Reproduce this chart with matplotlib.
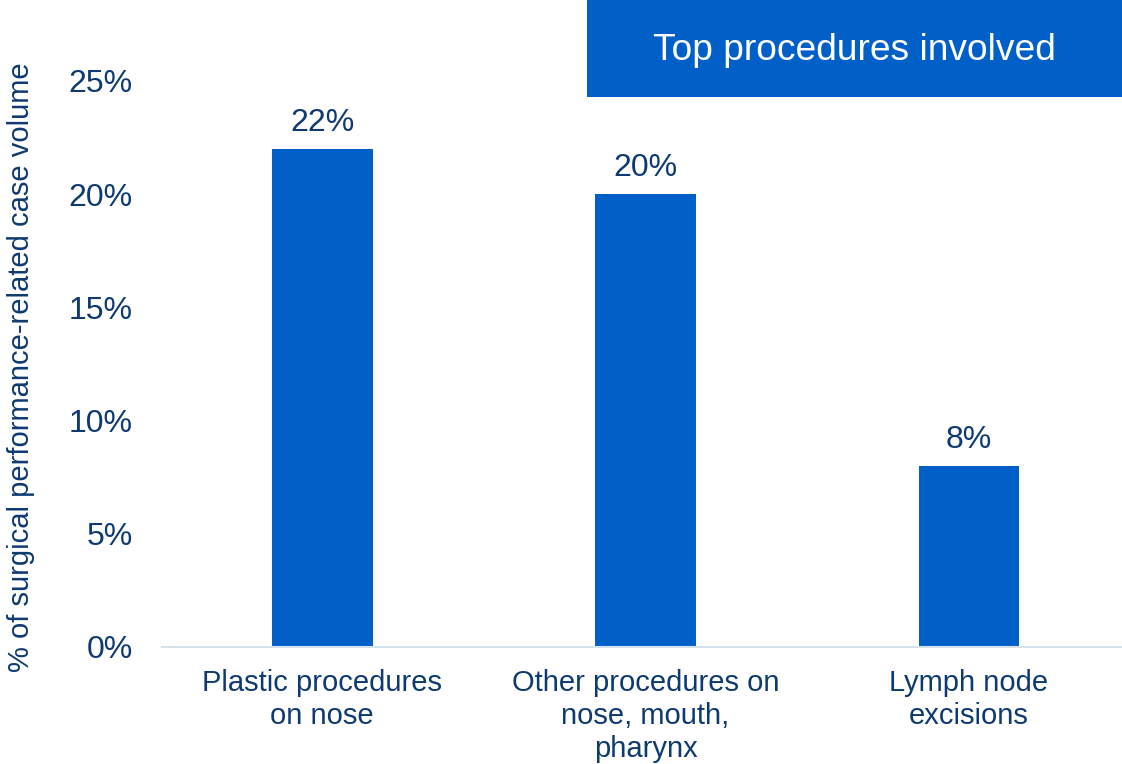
import matplotlib
matplotlib.use("Agg")
import matplotlib.pyplot as plt
from matplotlib.patches import Rectangle

plt.rcParams["font.family"] = ["Liberation Sans", "DejaVu Sans"]

# Share of surgical performance-related case volume by procedure
categories = ["Plastic procedures\non nose",
              "Other procedures on\nnose, mouth,\npharynx",
              "Lymph node\nexcisions"]
shares = [22, 20, 8]
yticks = [0, 5, 10, 15, 20, 25]

BAR_BLUE = "#0060C8"
NAVY = "#0E3A72"

fig = plt.figure(figsize=(11.22, 7.64), dpi=100)
ax = fig.add_axes([162 / 1122, 1 - 647 / 764, (1122 - 162) / 1122, (647 - 81) / 764])

x = list(range(len(categories)))
bars = ax.bar(x, shares, width=0.312, color=BAR_BLUE, zorder=2)

for rect, val in zip(bars, shares):
    ax.text(rect.get_x() + rect.get_width() / 2, val + 0.5, "%d%%" % val,
            ha="center", va="bottom", fontsize=23, color=NAVY)

ax.set_xlim(-0.495, 2.473)
ax.set_ylim(0, 25)
ax.set_yticks(yticks)
ax.set_yticklabels(["%d%%" % t for t in yticks], fontsize=23, color=NAVY)
ax.set_xticks(x)
ax.set_xticklabels(categories, fontsize=21, color=NAVY, linespacing=1.22)
ax.tick_params(axis="both", length=0)
ax.tick_params(axis="y", pad=21)
ax.tick_params(axis="x", pad=16)

for side in ["top", "right", "left"]:
    ax.spines[side].set_visible(False)
ax.spines["bottom"].set_color("#D6E3EC")
ax.spines["bottom"].set_linewidth(1.5)

fig.text(21 / 1122, 1 - 367 / 764, "% of surgical performance-related case volume",
         rotation=90, ha="center", va="center", fontsize=21, color=NAVY)

# header box
fig.patches.append(Rectangle((587 / 1122, 1 - 97 / 764), (1122 - 587) / 1122, 97 / 764,
                             transform=fig.transFigure, facecolor="#0060C8",
                             edgecolor="none", zorder=0))
fig.text((587 + 1122) / 2 / 1122, 1 - 50 / 764, "Top procedures involved",
         ha="center", va="center", fontsize=26.7, color="white")

fig.savefig("out.png", dpi=100)
